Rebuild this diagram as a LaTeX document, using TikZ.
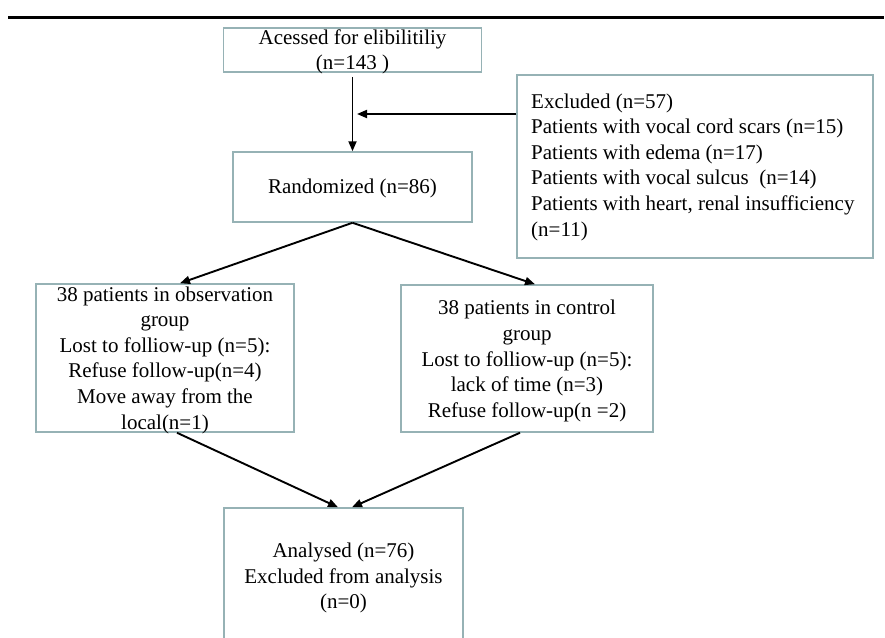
\documentclass[tikz,border=0pt]{standalone}
\usepackage{fontspec}
\setmainfont{Liberation Serif}
\usetikzlibrary{arrows.meta,calc}
\definecolor{boxline}{RGB}{150,178,181}
\begin{document}
\begin{tikzpicture}[x=1pt,y=-1pt,
  box/.style={draw=boxline,line width=1.5pt,rectangle,inner sep=0pt,fill=none},
  txt/.style={inner sep=0pt,align=center,font=\fontsize{21}{25.6}\selectfont},
  ltxt/.style={inner sep=0pt,align=left,font=\fontsize{21}{25.6}\selectfont},
  arr/.style={draw=black,line width=1.9pt,-{Triangle[length=10pt,width=8pt]}},
  rule/.style={draw=black,line width=2.6pt}]
\clip (0,0) rectangle (885,637);
\useasboundingbox (0,0) rectangle (885,637);
% top rule
\coordinate (rl) at (8,17.7);
\coordinate (rr) at (884,17.7);
\draw[rule] (rl) -- (rr);
% boxes
\node[box,minimum width=258pt,minimum height=44pt] (b1) at (352.5,50) {};
\node[txt] (t1) at (352.5,52) {Acessed for elibilitiliy\\(n=143 )};
\node[box,minimum width=239pt,minimum height=70pt] (rand) at (352.5,187) {};
\node[txt] (trand) at (352.5,188) {Randomized (n=86)};
\node[box,minimum width=356pt,minimum height=183pt] (excl) at (695,166.5) {};
\node[ltxt,anchor=west] (texcl) at (531,167) {Excluded (n=57)\\Patients with vocal cord scars (n=15)\\Patients with edema (n=17)\\Patients with vocal sulcus\ \ (n=14)\\Patients with heart, renal insufficiency\\(n=11)};
\node[box,minimum width=258pt,minimum height=148pt] (lb) at (165,358) {};
\node[txt] (tlb) at (165,360) {38 patients in observation\\group\\Lost to folliow-up (n=5):\hspace*{0.6em}\\Refuse follow-up(n=4)\\Move away from the\\local(n=1)};
\node[box,minimum width=252pt,minimum height=147pt] (rb) at (527,358.5) {};
\node[txt] (trb) at (527,361) {38 patients in control\\group\\Lost to folliow-up (n=5):\hspace*{0.6em}\\lack of time (n=3)\\Refuse follow-up(n =2)};
\node[box,minimum width=239pt,minimum height=138pt] (bot) at (343.5,577) {};
\node[txt] (tbot) at (343.5,578) {Analysed (n=76)\\Excluded from analysis\\(n=0)};
% connectors
\draw[arr,shorten <=4pt] (b1.south) -- (rand.north);
\coordinate (join) at (357,114);
\draw[arr] (excl.west |- join) -- (join);
\draw[arr] (rand.south) -- ($(lb.north)+(15,0)$);
\draw[arr] (rand.south) -- ($(rb.north)+(8,0)$);
\draw[arr] ($(lb.south)+(12,0)$) -- ($(bot.north)+(-5.5,0)$);
\draw[arr] ($(rb.south)+(-7,0)$) -- ($(bot.north)+(8.5,0)$);
\end{tikzpicture}
\end{document}
